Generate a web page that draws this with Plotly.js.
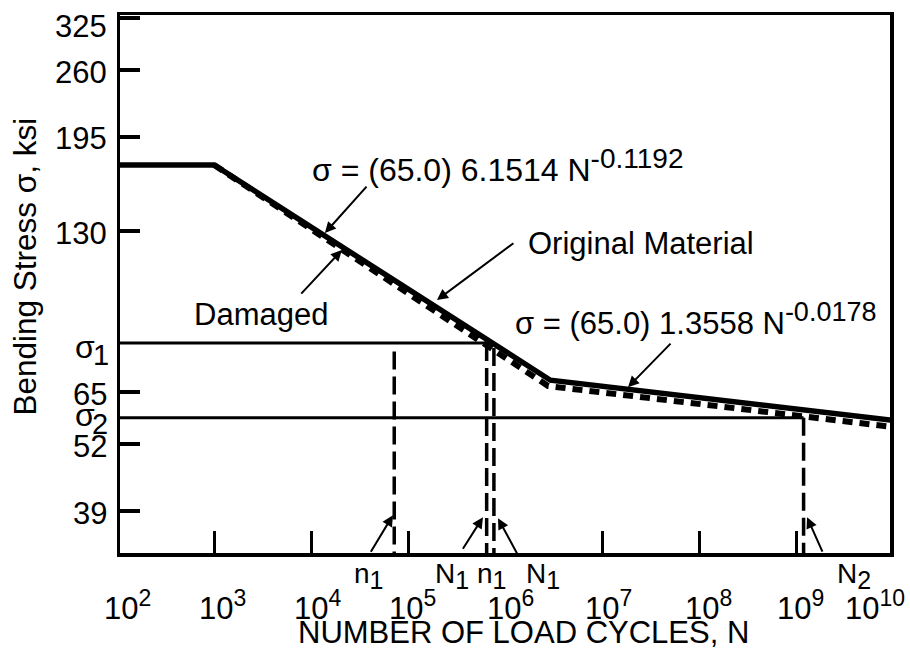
<!DOCTYPE html>
<html><head><meta charset="utf-8">
<script src="https://cdn.plot.ly/plotly-3.0.1.min.js"></script>
<style>html,body{margin:0;padding:0;background:#fff}</style>
</head><body><div id="chart" style="width:910px;height:652px"></div>
<script>
// ---- data ----
// Original material S-N curve: cycles N, bending stress (ksi)
const originalN = [100, 1000, 2.9e6, 1e10];
const originalS = [172.8, 172.8, 68.5, 57.6];
// Damaged material S-N curve
const damagedN = [1000, 2.75e6, 1e10];
const damagedS = [172.8, 66.8, 56.0];
// stress levels sigma1, sigma2
const sigmaLevels = [80.4, 58.3];
const sigmaNames = ['1', '2'];
const sigmaEndN = [6.4e5, 1.175e9];
// life markers (vertical dashed lines): n1, N1 (damaged), N1 (original), N2
const lifeN = [7.15e4, 6.4e5, 7.6e5, 1.175e9];
const lifeTopS = [77.5, 80.4, 78.7, 58.3];
const lifeBottomS = 30;
// axis ticks
const xTickVals = [1e3, 1e4, 1e5, 1e7, 1e8, 1e9];
const xTickExps = [2, 3, 4, 5, 6, 7, 8, 9, 10];
const yTickVals = [325, 260, 195, 130, 65, 52, 39];
const yTickText = ['325', '260', '195', '130', '65', '52', '39'];

// ---- layout helpers (positions, not data) ----
const xLabelPos = [2.11, 3.09, 4.06, 5.04, 6.05, 7.06, 8.09, 9.04, 9.81];
const yLabelShift = [-8, -2, -2, -2, -2, -2, -2];
const FONT = 'Liberation Sans, Arial, Helvetica, sans-serif';

const traces = [];
traces.push({x: originalN, y: originalS, mode: 'lines', line: {color: '#000', width: 5.5}, hoverinfo: 'skip'});
traces.push({x: damagedN, y: damagedS, mode: 'lines', line: {color: '#000', width: 6, dash: '10px,7px'}, hoverinfo: 'skip'});
sigmaLevels.forEach((s, i) => {
  traces.push({x: [50, sigmaEndN[i]], y: [s, s], mode: 'lines', line: {color: '#000', width: 3}, hoverinfo: 'skip'});
});
lifeN.forEach((n, i) => {
  traces.push({x: [n, n], y: [lifeTopS[i], lifeBottomS], mode: 'lines', line: {color: '#000', width: 3.5, dash: '18px,7px'}, hoverinfo: 'skip'});
});

const annotations = [];
xTickExps.forEach((e, i) => {
  annotations.push({xref: 'x', yref: 'paper', x: xLabelPos[i], y: -0.097, xanchor: 'center', yanchor: 'middle',
    text: '10<sup><span style="font-size:23px">' + e + '</span></sup>', showarrow: false, font: {size: 31, family: FONT, color: '#000'}});
});
// y tick labels
yTickVals.forEach((v, i) => {
  annotations.push({xref: 'paper', yref: 'y', x: 0, y: Math.log10(v), xanchor: 'right', yanchor: 'middle', xshift: -11, yshift: yLabelShift[i],
    text: yTickText[i], showarrow: false, font: {size: 31, family: FONT, color: '#000'}});
});
// sigma level labels on the y axis (σ with a lowered index digit)
const sigmaGlyphShift = [-4.5, 3];    // px offset of σ glyph from its line
const sigmaDigitShift = [-12.5, -6];  // px offset of index digit
const sigmaDigitX = [-9, -10];
sigmaLevels.forEach((s, i) => {
  annotations.push({xref: 'paper', yref: 'y', x: 0, y: Math.log10(s), xanchor: 'right', yanchor: 'middle', xshift: -23, yshift: sigmaGlyphShift[i],
    text: 'σ', showarrow: false, font: {size: 32, family: FONT, color: '#000'}});
  annotations.push({xref: 'paper', yref: 'y', x: 0, y: Math.log10(s), xanchor: 'right', yanchor: 'middle', xshift: sigmaDigitX[i], yshift: sigmaDigitShift[i],
    text: sigmaNames[i], showarrow: false, font: {size: 29, family: FONT, color: '#000'}});
});
// axis titles
annotations.push({xref: 'paper', yref: 'paper', x: 0.524, y: -0.184, xanchor: 'center', yanchor: 'bottom',
  text: 'NUMBER OF LOAD CYCLES, N', showarrow: false, font: {size: 31, family: FONT, color: '#000'}});
annotations.push({xref: 'paper', yref: 'paper', x: -0.124, y: 0.5316, xanchor: 'center', yanchor: 'middle', textangle: -90,
  text: 'Bending Stress σ, ksi', showarrow: false, font: {size: 31.5, family: FONT, color: '#000'}});
// curve labels
const tf = {size: 31, family: FONT, color: '#000'};
annotations.push({x: 3.986, y: 2.2375, xanchor: 'left', yanchor: 'middle', showarrow: false, font: {size: 32, family: FONT, color: '#000'},
  text: 'σ = (65.0) 6.1514 N<sup><span style="font-size:28px">-0.1192</span></sup>'});
annotations.push({x: 6.077, y: 1.9498, xanchor: 'left', yanchor: 'middle', showarrow: false, font: tf,
  text: 'σ = (65.0) 1.3558 N<sup><span style="font-size:27px">-0.0178</span></sup>'});
annotations.push({x: 3.481, y: 1.9591, xanchor: 'center', yanchor: 'middle', showarrow: false, font: tf, text: 'Damaged'});
annotations.push({x: 7.396, y: 2.0917, xanchor: 'center', yanchor: 'middle', showarrow: false, font: tf, text: 'Original Material'});
// bottom life labels
const lf = {size: 28, family: FONT, color: '#000'};
const sub = (t, d) => t + '<sub><span style="font-size:25px">' + d + '</span></sub>';
[[4.594, sub('n', 1)], [5.449, sub('N', 1)], [5.861, sub('n', 1)], [6.385, sub('N', 1)], [9.590, sub('N', 2)]].forEach(p => {
  annotations.push({xref: 'x', yref: 'paper', x: p[0], y: -0.042, xanchor: 'center', yanchor: 'middle', showarrow: false, font: lf, text: p[1]});
});
// arrows (head in data coords, tail offset in px)
[[4.140, 2.1104, 43, -48], [4.315, 2.0787, -42, 45], [5.294, 1.9853, 78, -58], [7.262, 1.8227, 44, -45],
 [4.841, 1.5836, -23, 38], [5.768, 1.5799, -21, 33], [5.923, 1.5780, 20, 37], [9.106, 1.5799, 16, 36]].forEach(a => {
  annotations.push({x: a[0], y: a[1], ax: a[2], ay: a[3], text: '', showarrow: true, arrowhead: 2, arrowsize: 1.1, arrowwidth: 2, arrowcolor: '#000'});
});

const layout = {
  width: 910, height: 652,
  margin: {l: 120, r: 20, t: 15, b: 99, pad: 0},
  paper_bgcolor: '#fff', plot_bgcolor: '#fff',
  showlegend: false,
  font: {family: FONT, color: '#000'},
  xaxis: {type: 'log', range: [2.03, 9.96], showline: true, mirror: true, linewidth: 3.5, linecolor: '#000',
    ticks: 'inside', ticklen: 22, tickwidth: 3, tickcolor: '#000', tickvals: xTickVals, showticklabels: false,
    showgrid: false, zeroline: false},
  yaxis: {type: 'log', range: [1.513, 2.5177], showline: true, mirror: true, linewidth: 3.5, linecolor: '#000',
    ticks: 'inside', ticklen: 20, tickwidth: 4, tickcolor: '#000', tickvals: yTickVals, showticklabels: false,
    showgrid: false, zeroline: false},
  annotations: annotations
};
Plotly.newPlot('chart', traces, layout, {staticPlot: true, displayModeBar: false});
</script></body></html>
